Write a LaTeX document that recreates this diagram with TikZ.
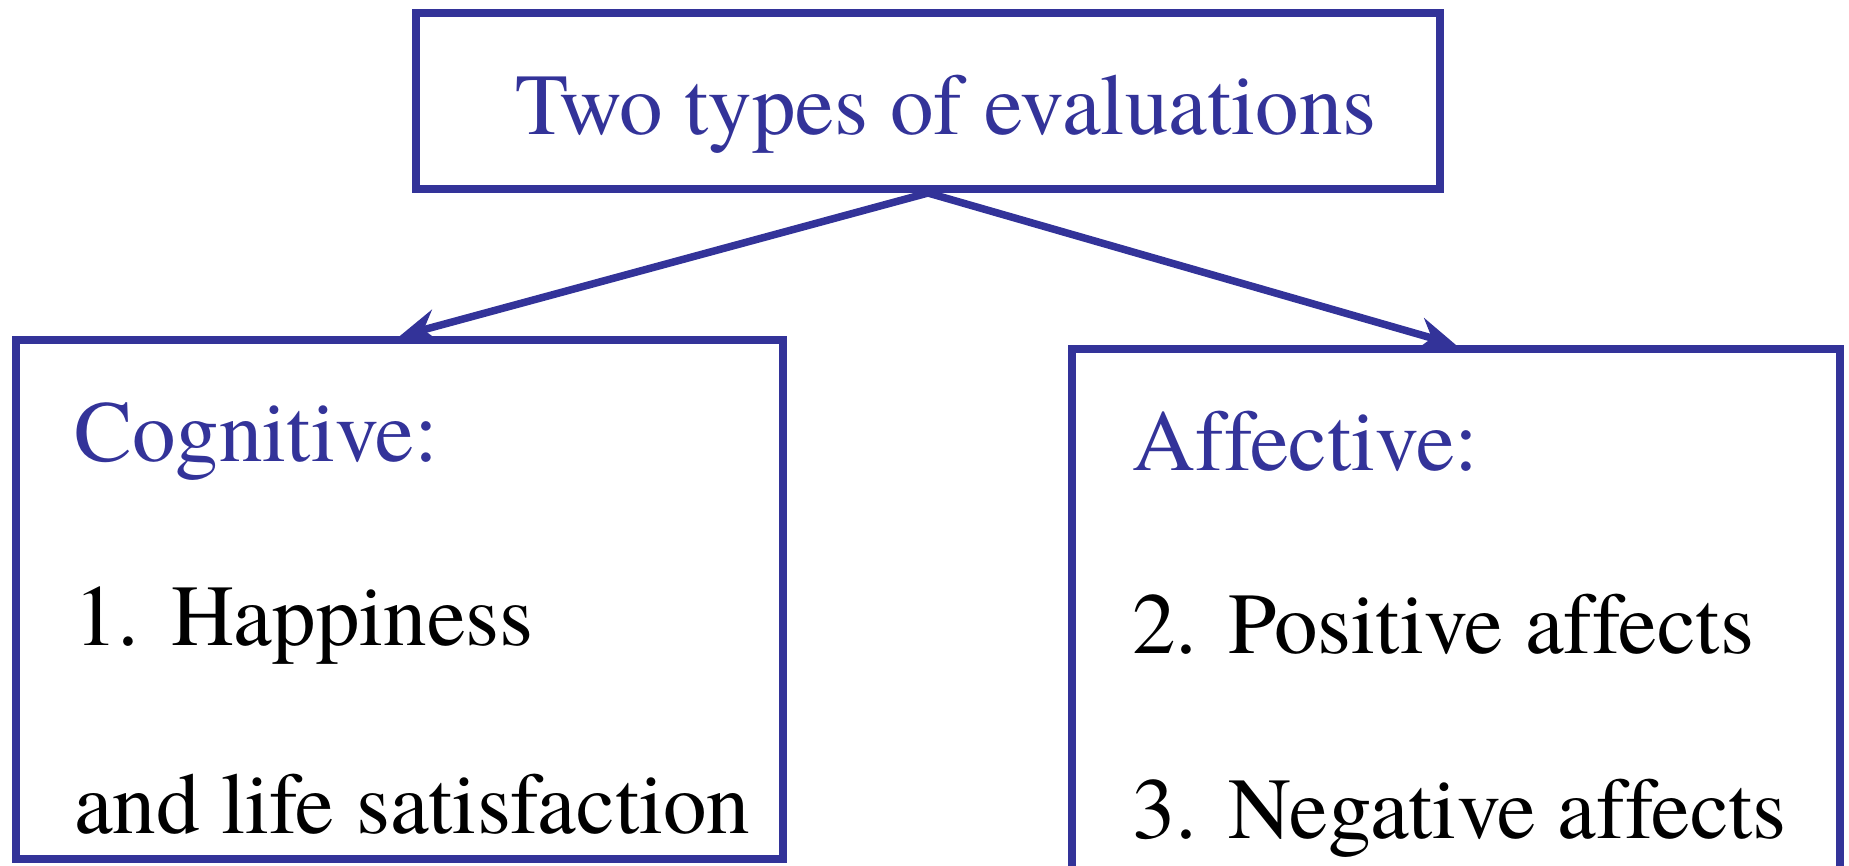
\documentclass[tikz,border=0pt]{standalone}
\usepackage{fontspec}
\setmainfont{texgyretermes}[Extension=.otf, UprightFont=*-regular, Ligatures=NoCommon]
\usetikzlibrary{arrows.meta}
\definecolor{slideblue}{RGB}{51,51,153}

\begin{document}
\begin{tikzpicture}[x=1pt, y=-1pt,
	frame/.style={draw=slideblue, line width=8pt, inner sep=0pt},
	heading/.style={anchor=base west, inner sep=0pt, text=slideblue, font=\fontsize{87}{100}\selectfont},
	item/.style={anchor=base west, inner sep=0pt, font=\fontsize{87}{100}\selectfont},
	link/.style={draw=slideblue, line width=7.5pt, -{Stealth[length=38pt, width=34pt, inset=13pt]}}]
	\useasboundingbox (0, 0) rectangle (1849, 866);
	\clip (0, 0) rectangle (1849, 866);

	\node[frame, minimum width=1024pt, minimum height=176pt] (eval) at (928, 101) {};
	\node[frame, minimum width=767pt, minimum height=519pt] (cog) at (399.5, 599.75) {};
	\node[frame, minimum width=768pt, minimum height=530pt] (aff) at (1456, 614) {};

	\node[heading] (evaltext) at (515.5, 135) {Two types of evaluations};

	\node[heading] (cogtitle) at (74, 461) {Cognitive:};
	\node[item] (cogone) at (74, 645) {\makebox[97pt][l]{1.}Happiness};
	\node[item] (cogtwo) at (74, 833) {and life satisfaction};

	\node[heading] (afftitle) at (1132, 470) {Affective:};
	\node[item] (affone) at (1132, 653) {\makebox[96pt][l]{2.}Positive affects};
	\node[item] (afftwo) at (1132, 838) {\makebox[96pt][l]{3.}Negative affects};

	\draw[link] (eval.south) -- (cog.north);
	\draw[link] (eval.south) -- (aff.north);

\end{tikzpicture}
\end{document}
